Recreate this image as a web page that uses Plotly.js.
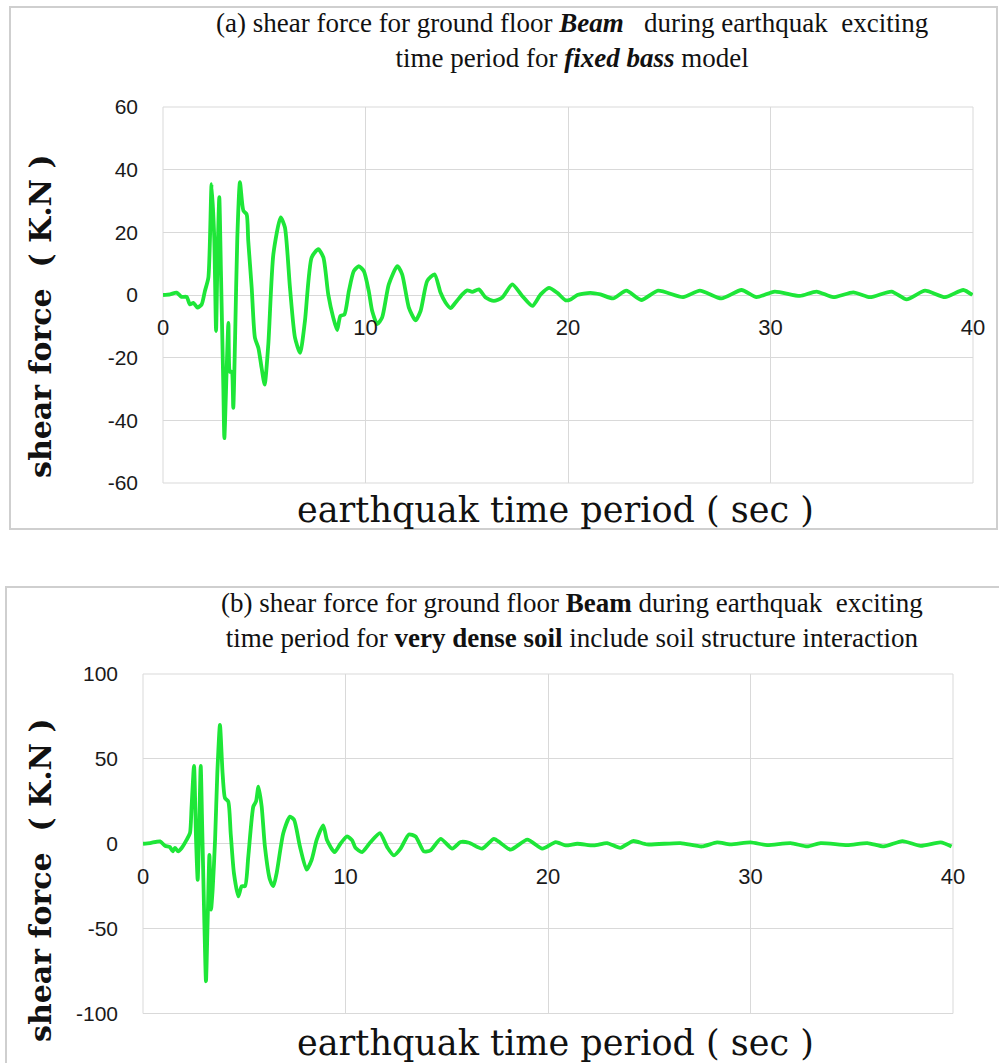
<!DOCTYPE html>
<html><head><meta charset="utf-8">
<script src="https://cdn.plot.ly/plotly-3.0.1.min.js"></script>
<style>html,body{margin:0;padding:0;background:#fff}</style>
</head><body><div id="chart" style="width:999px;height:1063px"></div>
<script>
// ---- data ----
const timeA = [0,0.35,0.67,0.92,1.17,1.33,1.5,1.7,1.91,2.07,2.24,2.40,2.53,2.62,2.68,2.78,2.86,2.98,3.03,3.14,3.23,3.31,3.39,3.47,3.56,3.67,3.80,3.97,4.13,4.21,4.38,4.54,4.71,4.87,5.02,5.20,5.45,5.81,6.02,6.27,6.52,6.77,7.01,7.34,7.67,7.92,8.16,8.41,8.60,8.76,8.96,9.18,9.42,9.67,9.92,10.16,10.33,10.58,10.82,11.15,11.57,11.81,12.14,12.47,12.72,13.05,13.41,13.71,13.95,14.2,14.45,14.78,15.02,15.27,15.6,15.93,16.34,16.75,17.25,17.74,18.24,18.65,19.06,19.47,19.88,20.13,20.46,21.1,21.6,22.22,22.88,23.62,24.45,25.68,26.51,27.58,28.57,29.31,30.21,31.45,32.27,33.1,34.09,34.91,35.98,36.72,37.63,38.62,39.52,39.97];
const shearA = [0,0.2,0.75,-0.6,-0.6,-3,-2.5,-4,-3,1.3,5.5,35.4,18.4,-11.5,7.7,31.2,7.7,-29.7,-45.7,-24.5,-8.9,-24.5,-24.5,-36,-13.7,18.4,36,26.9,25.8,17.3,2.3,-13.7,-16.9,-23.3,-28.6,-15.8,13,24.8,21.6,2.3,-13.7,-18.5,-8.3,12,14.6,12,0.2,-7.3,-11.2,-6.7,-6.2,1.3,7.6,9.2,7.6,1.3,-5.1,-9.3,-7.2,3.4,9.2,6.6,-4,-8.1,-5.1,4.5,6.6,0.7,-2.4,-4.2,-2.4,0.2,1.5,1,1.8,-0.8,-1.9,-0.8,3.4,-0.3,-3.5,0.2,2.3,0.7,-1.7,-1.4,0,0.7,0.2,-1.1,1.4,-1.6,1.4,-0.7,1.4,-1.1,1.6,-0.7,1.1,-0.3,1.1,-0.7,0.85,-0.7,1.1,-1.4,1.4,-0.7,1.6,0];

const timeB = [0,0.35,0.84,1.09,1.33,1.47,1.58,1.74,1.91,2.16,2.32,2.40,2.52,2.62,2.70,2.78,2.85,2.93,3.03,3.11,3.19,3.28,3.36,3.44,3.56,3.67,3.80,3.93,4.05,4.21,4.33,4.49,4.71,4.87,5.04,5.20,5.45,5.58,5.70,5.86,6.02,6.27,6.44,6.6,6.93,7.26,7.46,7.75,8.08,8.33,8.58,8.9,9.09,9.46,9.75,10.08,10.33,10.49,10.82,11.24,11.7,12.06,12.39,12.72,13.13,13.46,13.87,14.2,14.7,15.27,15.68,16.1,16.75,17.33,17.66,18.15,18.98,19.72,20.38,20.87,21.45,22.26,22.92,23.57,24.2,24.89,26.54,27.6,28.35,29.0,30.0,30.82,31.98,32.8,33.46,34.78,35.77,36.59,37.5,38.4,39.39,39.93];
const shearB = [0,0.4,1.4,-1.2,-2,-4.5,-2.5,-4.5,-2.5,2.4,6.3,22,45.9,2.4,-21.2,12.2,45.9,6.3,-46.7,-81,-46.7,-6.5,-38.8,-27,2.4,41.6,70,41.6,26.9,24.9,6.3,-17.3,-31,-25,-25,-7.5,22,24.9,33.7,22,-1.6,-21.2,-25,-17.3,6.3,16,14.1,-1.6,-15.3,-9.4,2.4,10.8,2,-4.9,0,4.3,2,-2.4,-4.9,1,6.3,-2,-6.9,-2.9,5.5,4.3,-4.5,-3.9,2.9,-2.9,1,0.6,-2.9,2.9,0.4,-3.5,2.4,-2.9,1,-1,0,-1,0.4,-2.4,1.6,-0.4,0.4,-1.6,0.8,-0.4,0.8,-0.8,0.4,-1.6,0.4,-0.8,0.4,-1.6,1.6,-1.2,0.8,-1.6];

const xTicks = [0,10,20,30,40];
const yTicksA = [-60,-40,-20,0,20,40,60];
const yTicksB = [-100,-50,0,50,100];

const titleA = "(a) shear force for ground floor <b><i>Beam</i></b>\u00a0\u00a0 during earthquak\u00a0 exciting<br>time period for <b><i>fixed bass</i></b> model";
const titleB = "(b) shear force for ground floor <b>Beam</b> during earthquak\u00a0 exciting<br>time period for <b>very dense soil</b> include soil structure interaction";
const xTitle = "earthquak time period ( sec )";
const yTitle = "shear force\u00a0 ( K.N )";

// ---- layout helpers (pixel -> paper) ----
const W = 999, H = 1063;
const px = x => x / W, py = y => 1 - y / H;
const green = 'rgb(30,230,56)';
const grid = '#d9d9d9';
const tickFont = {family: 'Liberation Sans, Arial, sans-serif', size: 21, color: '#1a1a1a'};
const titleFont = {family: 'Liberation Serif, Times New Roman, serif', size: 27, color: '#111'};
const xTitleFont = {family: 'DejaVu Serif, serif', size: 35, color: '#111'};
const yTitleFont = {family: 'DejaVu Serif, serif', size: 30, color: '#111'};

const traces = [
  {x: timeA, y: shearA, xaxis: 'x', yaxis: 'y', type: 'scatter', mode: 'lines',
   line: {color: green, width: 3.8, shape: 'spline', smoothing: 0.6}, hoverinfo: 'skip'},
  {x: timeB, y: shearB, xaxis: 'x2', yaxis: 'y2', type: 'scatter', mode: 'lines',
   line: {color: green, width: 3.8, shape: 'spline', smoothing: 0.6}, hoverinfo: 'skip'}
];

function xAx(d0, d1, pos) {
  return {domain: [px(d0), px(d1)], range: [0, 40], tickvals: xTicks, ticktext: xTicks.map(String),
    anchor: 'free', position: pos, showgrid: true, gridcolor: grid, gridwidth: 1,
    zeroline: false, showline: false, ticks: '', ticklabelstandoff: 17,
    tickfont: {family: 'Liberation Sans, Arial, sans-serif', size: 22, color: '#1a1a1a'}, automargin: false, fixedrange: true};
}
function yAx(d0, d1, range, ticks, anchor) {
  return {domain: [py(d1), py(d0)], range: range, tickvals: ticks, ticktext: ticks.map(String),
    anchor: anchor, showgrid: true, gridcolor: grid, gridwidth: 1, zeroline: false, showline: false,
    ticks: '', ticklabelstandoff: 24, tickfont: tickFont, automargin: false, fixedrange: true};
}

function note(text, x, y, font, angle) {
  return {text: text, x: px(x), y: py(y), xref: 'paper', yref: 'paper', xanchor: 'center', yanchor: 'middle',
    showarrow: false, font: font, textangle: angle || 0, align: 'center'};
}

const layout = {
  width: W, height: H, margin: {l: 0, r: 0, t: 0, b: 0},
  paper_bgcolor: '#ffffff', plot_bgcolor: '#ffffff', showlegend: false,
  xaxis: xAx(163, 973, py(294.5)),
  yaxis: yAx(107, 483, [-60, 60], yTicksA, 'x'),
  xaxis2: xAx(143, 953, py(844)),
  yaxis2: yAx(674, 1013.5, [-100, 100], yTicksB, 'x2'),
  shapes: [
    {type: 'rect', xref: 'paper', yref: 'paper', x0: px(10), x1: px(997), y0: py(529), y1: py(7),
     line: {color: '#cfcfcf', width: 2}, layer: 'below'},
    {type: 'rect', xref: 'paper', yref: 'paper', x0: px(6), x1: px(1001), y0: py(1070), y1: py(587),
     line: {color: '#cfcfcf', width: 2}, layer: 'below'},
    {type: 'rect', xref: 'x domain', yref: 'y domain', x0: 0, x1: 1, y0: 0, y1: 1,
     line: {color: grid, width: 1}, layer: 'below'},
    {type: 'rect', xref: 'x2 domain', yref: 'y2 domain', x0: 0, x1: 1, y0: 0, y1: 1,
     line: {color: grid, width: 1}, layer: 'below'}
  ],
  annotations: [
    note(titleA, 572, 40, titleFont),
    note(titleB, 572, 620, titleFont),
    note(xTitle, 555, 510, xTitleFont),
    note(xTitle, 555, 1043, xTitleFont),
    note('<b>' + yTitle + '</b>', 40, 316, yTitleFont, -90),
    note('<b>' + yTitle + '</b>', 40, 880, yTitleFont, -90)
  ]
};

Plotly.newPlot('chart', traces, layout, {staticPlot: true, displayModeBar: false});
</script>
</body></html>
